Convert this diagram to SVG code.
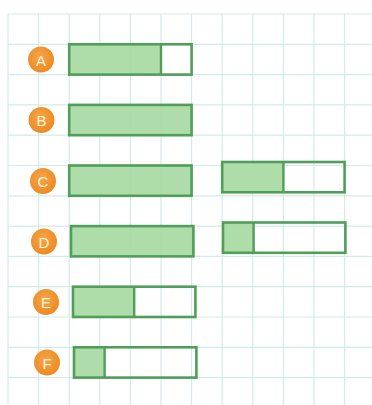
<svg xmlns="http://www.w3.org/2000/svg" width="372" height="405" viewBox="0 0 372 405">
<defs>
<radialGradient id="og" cx="0.45" cy="0.4" r="0.6">
<stop offset="0" stop-color="#f6a54a"/>
<stop offset="1" stop-color="#ec8a22"/>
</radialGradient>
<style>
.g{stroke:#d3ebe8;stroke-width:1.2;fill:none}
.fill{fill:#a6d9a1;opacity:0.9}
.out{fill:none;stroke:#4f9e59;stroke-width:2.6}
.div{stroke:#4f9e59;stroke-width:2.4}
.c{fill:url(#og)}
.t{font-family:"Liberation Sans",Arial,sans-serif;font-size:15px;fill:#fff4d6;text-anchor:middle;dominant-baseline:central}
</style>
</defs>
<rect width="372" height="405" fill="#ffffff"/>
<g id="grid" class="g">
<path d="M8 14V405M38.6 14V405M69.2 14V405M99.8 14V405M130.4 14V405M161 14V405M191.6 14V405M222.2 14V405M252.8 14V405M283.4 14V405M314 14V405M344.6 14V405"/>
<path d="M8 14H372M8 44.3H372M8 74.6H372M8 104.9H372M8 135.2H372M8 165.5H372M8 195.8H372M8 226.1H372M8 256.4H372M8 286.7H372M8 317H372M8 347.3H372M8 377.6H372"/>
</g>
<g id="connectors"></g>
<g id="A">
<circle class="c" cx="41" cy="59.5" r="13"/><text class="t" x="41" y="60">A</text>
<rect class="fill" x="69.2" y="44.3" width="91.8" height="30.3"/>
<line class="div" x1="161" y1="44.3" x2="161" y2="74.6"/>
<rect class="out" x="69.2" y="44.3" width="122.4" height="30.3"/>
</g>
<g id="B">
<circle class="c" cx="41.5" cy="120" r="13"/><text class="t" x="41.5" y="120.5">B</text>
<rect class="fill" x="69.2" y="104.9" width="122.4" height="30.3"/>
<rect class="out" x="69.2" y="104.9" width="122.4" height="30.3"/>
</g>
<g id="C">
<circle class="c" cx="43" cy="181" r="13"/><text class="t" x="43" y="181.5">C</text>
<rect class="fill" x="69.2" y="165.5" width="122.4" height="30.3"/>
<rect class="out" x="69.2" y="165.5" width="122.4" height="30.3"/>
<rect class="fill" x="222.2" y="162" width="61.2" height="30.3"/>
<line class="div" x1="283.4" y1="162" x2="283.4" y2="192.3"/>
<rect class="out" x="222.2" y="162" width="122.4" height="30.3"/>
</g>
<g id="D">
<circle class="c" cx="44" cy="241.5" r="13"/><text class="t" x="44" y="242">D</text>
<rect class="fill" x="71" y="226.1" width="122.4" height="30.3"/>
<rect class="out" x="71" y="226.1" width="122.4" height="30.3"/>
<rect class="fill" x="223" y="222.5" width="30.6" height="30.3"/>
<line class="div" x1="253.6" y1="222.5" x2="253.6" y2="252.8"/>
<rect class="out" x="223" y="222.5" width="122.4" height="30.3"/>
</g>
<g id="E">
<circle class="c" cx="46" cy="302" r="13"/><text class="t" x="46" y="302.5">E</text>
<rect class="fill" x="73" y="286.7" width="61.2" height="30.3"/>
<line class="div" x1="134.2" y1="286.7" x2="134.2" y2="317"/>
<rect class="out" x="73" y="286.7" width="122.4" height="30.3"/>
</g>
<g id="F">
<circle class="c" cx="47" cy="362.5" r="13"/><text class="t" x="47" y="363">F</text>
<rect class="fill" x="74" y="347.3" width="30.6" height="30.3"/>
<line class="div" x1="104.6" y1="347.3" x2="104.6" y2="377.6"/>
<rect class="out" x="74" y="347.3" width="122.4" height="30.3"/>
</g>
</svg>
